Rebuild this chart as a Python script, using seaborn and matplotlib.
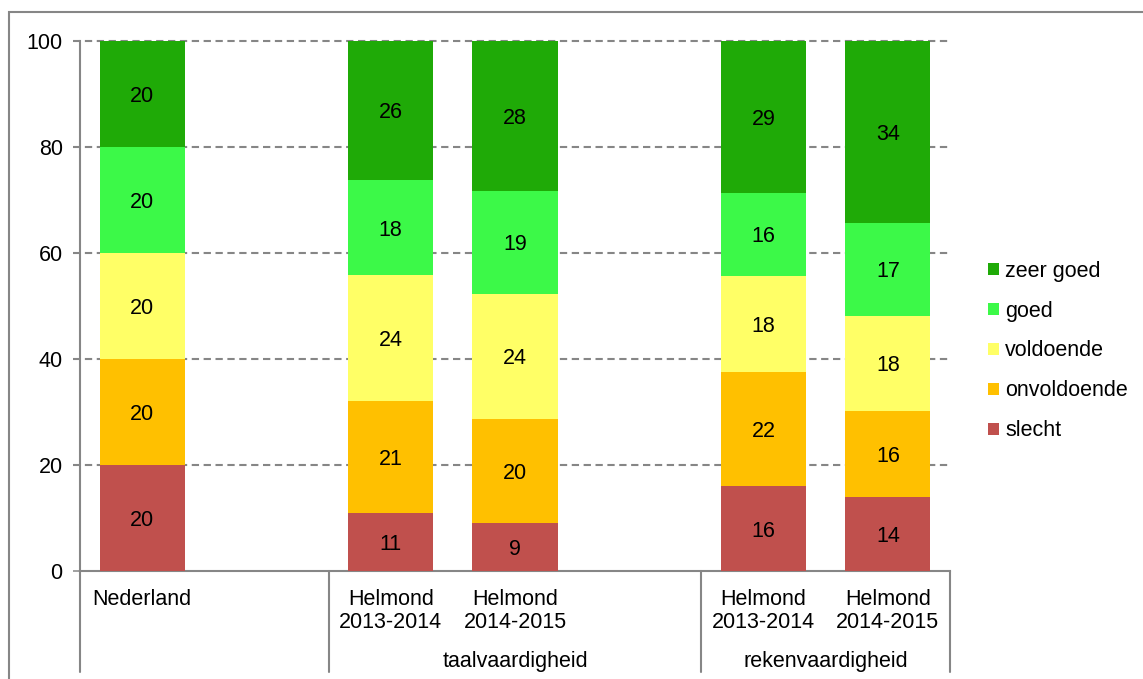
import numpy as np
import pandas as pd
import matplotlib
matplotlib.use("Agg")
import matplotlib.pyplot as plt
from matplotlib.patches import Patch, Rectangle
import seaborn as sns

# data (percentages)
slots = ["ned", "gap1", "t13", "t14", "gap2", "r13", "r14"]
bar_keys = ["ned", "t13", "t14", "r13", "r14"]
bar_labels = ["Nederland", "Helmond\n2013-2014", "Helmond\n2014-2015",
              "Helmond\n2013-2014", "Helmond\n2014-2015"]
groups = ["taalvaardigheid", "rekenvaardigheid"]
categories = ["slecht", "onvoldoende", "voldoende", "goed", "zeer goed"]
slecht = [20, 10.9, 9.1, 16.0, 13.9]
onvoldoende = [20, 21.2, 19.6, 21.6, 16.3]
voldoende = [20, 23.7, 23.6, 18.1, 18.0]
goed = [20, 18.0, 19.4, 15.7, 17.4]
zeer_goed = [20, 26.2, 28.3, 28.6, 34.4]
colors = ["#C0504D", "#FFC000", "#FFFF66", "#3CF948", "#1FAA07"]

series = [slecht, onvoldoende, voldoende, goed, zeer_goed]
df = pd.DataFrame({"slot": bar_keys})
for name, vals in zip(categories, series):
    df[name] = vals
cum = df[categories].cumsum(axis=1)

sns.set_style("white")
plt.rcParams["font.family"] = ["Liberation Sans", "DejaVu Sans"]
plt.rcParams["text.color"] = "black"
plt.rcParams["xtick.color"] = "black"
plt.rcParams["ytick.color"] = "black"
fs = 15.5
grey = "#868686"

fig = plt.figure(figsize=(11.43, 6.79), dpi=100)
ax = fig.add_axes([80 / 1143, 108 / 679, 870 / 1143, 530 / 679])

# outer frame of the chart area
fig.patches.append(Rectangle((9 / 1143, -0.1), 1.2, (679 - 12) / 679 + 0.1,
                             transform=fig.transFigure, fill=False,
                             edgecolor=grey, linewidth=1.5))

# stacked bars: draw cumulative totals from top layer down
for name, col in reversed(list(zip(categories, colors))):
    sns.barplot(x=df["slot"], y=cum[name], order=slots, color=col,
                saturation=1, width=0.684, linewidth=0, errorbar=None,
                ax=ax, zorder=3)

# segment labels
pos = {k: slots.index(k) for k in slots}
for i, key in enumerate(bar_keys):
    bottom = 0
    for name in categories:
        v = df.loc[i, name]
        ax.text(pos[key], bottom + v / 2, f"{v:.0f}", ha="center",
                va="center_baseline", fontsize=fs, color="black", zorder=4)
        bottom += v

ax.set_xlim(-0.5, 6.5)
ax.set_ylim(0, 100)
ax.set_yticks(range(0, 101, 20))
ax.tick_params(axis="y", labelsize=fs, length=5, width=1.1, color=grey,
               labelcolor="black", pad=7.5, left=True)
for y in range(20, 101, 20):
    ax.plot([-0.555, 6.5], [y, y], color=grey, lw=1.5, ls=(0, (3.5, 2.2)),
            clip_on=False, zorder=1)

ax.set_xticks([pos[k] for k in bar_keys])
ax.set_xticklabels(bar_labels, fontsize=fs, linespacing=1.1, color="black")
ax.tick_params(axis="x", length=0, pad=13)
ax.set_xlabel("")
ax.set_ylabel("")

for s in ["top", "right"]:
    ax.spines[s].set_visible(False)
ax.spines["left"].set_color(grey)
ax.spines["left"].set_linewidth(1.5)
ax.spines["bottom"].set_color(grey)
ax.spines["bottom"].set_linewidth(1.5)

# group separators and group labels below the axis
for x in [-0.5, 1.5, 4.5, 6.5]:
    ax.plot([x, x], [0, -19.1], color=grey, lw=1.5, clip_on=False)
ax.text(3.0, -17.0, groups[0], ha="center", va="center", fontsize=fs)
ax.text(5.5, -17.0, groups[1], ha="center", va="center", fontsize=fs)

handles = [Patch(facecolor=c, edgecolor="none", label=n)
           for n, c in zip(categories, colors)][::-1]
leg = ax.legend(handles=handles, loc="center left",
                bbox_to_anchor=(988 / 1143, (679 - 351) / 679),
                bbox_transform=fig.transFigure, frameon=False, fontsize=fs,
                handlelength=0.5, handleheight=0.5, handletextpad=0.3,
                labelspacing=0.88, borderaxespad=0, borderpad=0)
for t in leg.get_texts():
    t.set_color("black")

fig.savefig("out.png", dpi=100)
